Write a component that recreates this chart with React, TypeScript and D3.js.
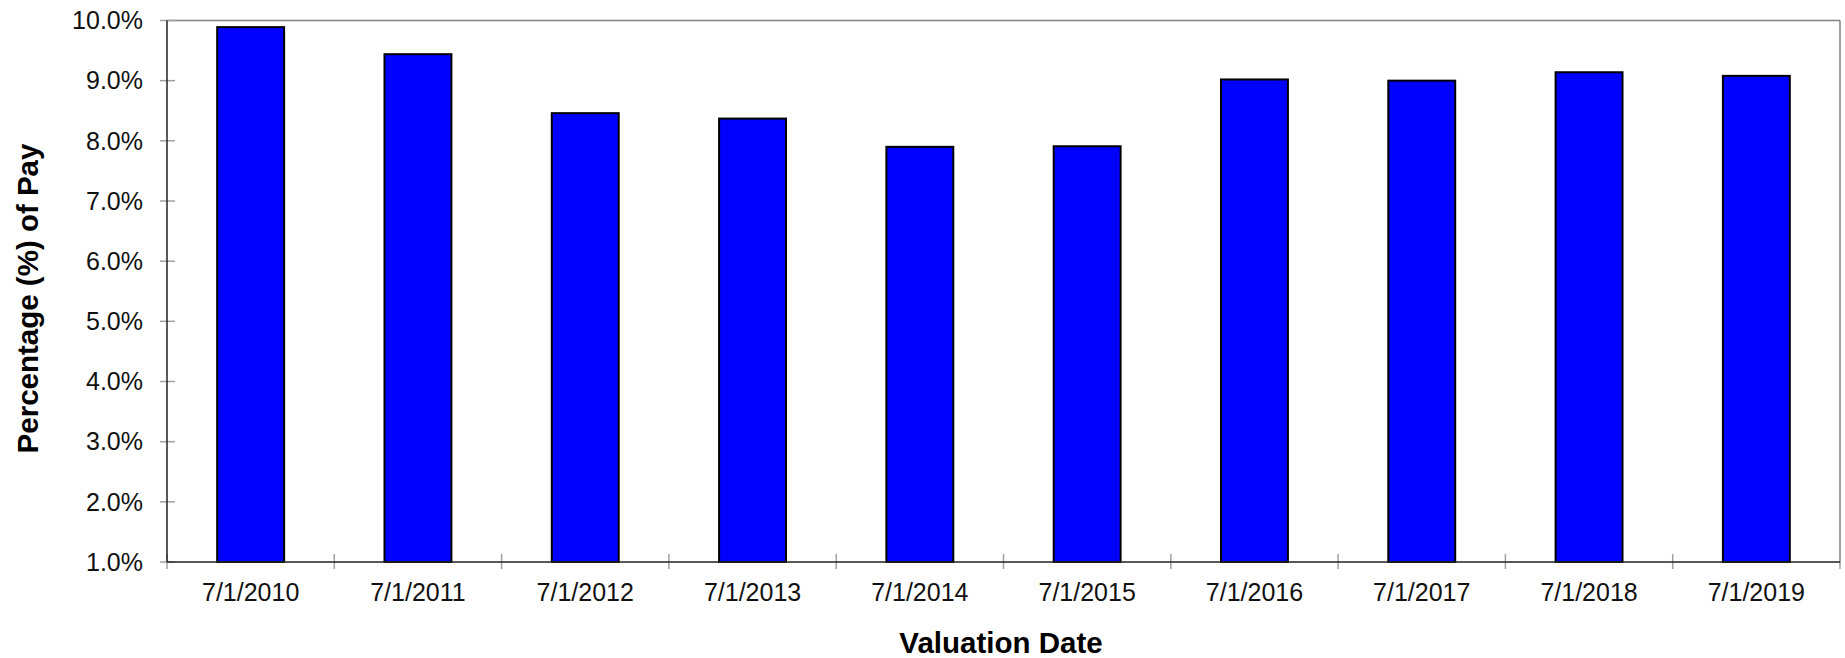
import React from "react";
import * as d3 from "d3";

const categories = ["7/1/2010", "7/1/2011", "7/1/2012", "7/1/2013", "7/1/2014", "7/1/2015", "7/1/2016", "7/1/2017", "7/1/2018", "7/1/2019"];
const values = [9.89, 9.44, 8.46, 8.37, 7.90, 7.91, 9.02, 9.00, 9.14, 9.08];
const yTicks = [1, 2, 3, 4, 5, 6, 7, 8, 9, 10];

const W = 1845;
const H = 658;
const L = 167;
const R = 1840;
const T = 20.5;
const B = 562;
const FONT = "'Liberation Sans', Arial, Helvetica, sans-serif";

export default function App() {
  const x = d3.scaleBand<string>().domain(categories).range([L, R]).paddingInner(0.6).paddingOuter(0.3);
  const y = d3.scaleLinear().domain([1, 10]).range([B, T]);
  const step = (R - L) / categories.length;
  const xTickPos = d3.range(categories.length + 1).map((i) => L + i * step);

  return (
    <svg width={W} height={H} style={{ position: "absolute", left: 0, top: 0, background: "#fff" }} fontFamily={FONT}>
      <rect x={0} y={0} width={W} height={H} fill="#fff" />
      {/* top and right border */}
      <line x1={L} y1={T} x2={R} y2={T} stroke="#808080" strokeWidth={1.5} />
      <line x1={R} y1={T} x2={R} y2={B} stroke="#808080" strokeWidth={1.5} />
      {/* y ticks */}
      {yTicks.map((t) => (
        <g key={t}>
          <line x1={L - 7} x2={L + 8} y1={y(t)} y2={y(t)} stroke="#a0a0a0" strokeWidth={1.5} />
          <text x={143} y={y(t)} dy="0.35em" textAnchor="end" fontSize={25} fill="#111">
            {t.toFixed(1) + "%"}
          </text>
        </g>
      ))}
      {/* x ticks */}
      {xTickPos.map((p, i) => (
        <line key={i} x1={p} x2={p} y1={B - 8} y2={B + 7} stroke="#a0a0a0" strokeWidth={1.5} />
      ))}
      {/* bars */}
      {categories.map((c, i) => (
        <rect
          key={c}
          x={x(c)}
          y={y(values[i])}
          width={x.bandwidth()}
          height={y(1) - y(values[i])}
          fill="#0000FF"
          stroke="#000"
          strokeWidth={2}
        />
      ))}
      {/* axes */}
      <line x1={L} y1={T} x2={L} y2={B} stroke="#222" strokeWidth={1.5} />
      <line x1={L} y1={B} x2={R} y2={B} stroke="#222" strokeWidth={1.5} />
      {/* x labels */}
      {categories.map((c) => (
        <text key={c} x={(x(c) as number) + x.bandwidth() / 2} y={600.5} textAnchor="middle" fontSize={25} fill="#111">
          {c}
        </text>
      ))}
      <text x={1001} y={653} textAnchor="middle" fontSize={29.5} fontWeight="bold" fill="#000">
        Valuation Date
      </text>
      <text
        transform={`translate(38,298.5) rotate(-90)`}
        textAnchor="middle"
        fontSize={29.5}
        fontWeight="bold"
        fill="#000"
      >
        Percentage (%) of Pay
      </text>
    </svg>
  );
}
